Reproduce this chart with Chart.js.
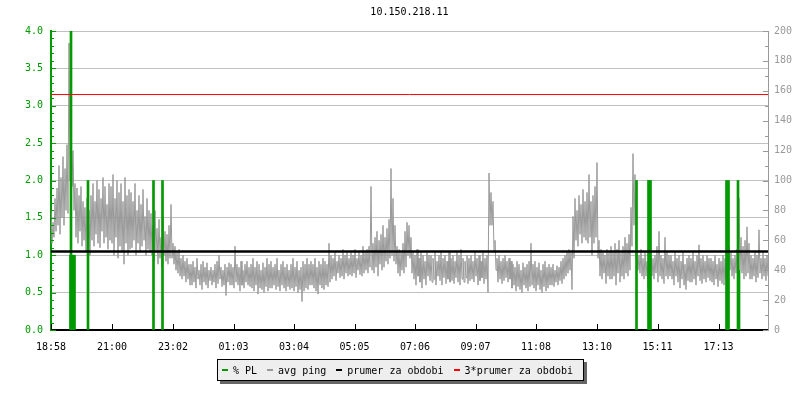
<!DOCTYPE html>
<html>
<head>
<meta charset="utf-8">
<script src="https://cdn.jsdelivr.net/npm/chart.js@4.4.3/dist/chart.umd.min.js"></script>
<style>
  body { margin: 0; background: #fff; }
  #wrap { position: relative; width: 800px; height: 400px; font-family: 'DejaVu Sans Mono', monospace; font-size: 10px; }
  #title { position: absolute; left: 51px; width: 717px; top: 6px; text-align: center; color: #000; }
  #legend { position: absolute; left: 217px; top: 359px; width: 361px; height: 20px; border: 1px solid #000;
            background: #eeeeee; box-shadow: 3px 3px 0 #666; display: flex; align-items: center; padding-left: 4px; box-sizing: content-box; }
  #legend .sw { display: inline-block; width: 9px; height: 2px; margin-right: 5px; }
  #legend .it { margin-right: 10px; white-space: pre; }
</style>
</head>
<body>
<div id="wrap">
  <canvas id="c" width="800" height="400"></canvas>
  <div id="title">10.150.218.11</div>
  <div id="legend"></div>
</div>
<script>
// avg ping [ms]: highest and lowest sample in each 4 minute slot, from 18:58
const slotMinutes = 4;
const pingHigh = [
  80, 72, 88, 95, 110, 102, 116, 108, 124, 192,
  130, 120, 98, 95, 90, 96, 86, 82, 88, 80,
  90, 98, 86, 100, 94, 88, 102, 96, 84, 98,
  96, 104, 88, 100, 92, 98, 86, 102, 90, 94,
  92, 86, 98, 80, 90, 84, 94, 76, 88, 80,
  78, 70, 80, 68, 74, 62, 76, 66, 64, 70,
  84, 58, 56, 52, 54, 48, 50, 46, 48, 44,
  44, 46, 42, 48, 40, 44, 46, 42, 45, 40,
  42, 40, 44, 46, 50, 42, 40, 44, 42, 45,
  44, 42, 56, 44, 42, 46, 40, 44, 46, 42,
  44, 48, 42, 46, 44, 40, 45, 42, 48, 44,
  46, 42, 44, 48, 40, 44, 46, 42, 44, 40,
  44, 48, 42, 46, 40, 42, 46, 44, 48, 44,
  46, 44, 48, 42, 46, 44, 48, 46, 44, 58,
  50, 48, 52, 46, 50, 48, 54, 50, 52, 48,
  52, 50, 54, 48, 52, 50, 56, 52, 54, 56,
  96, 58, 62, 66, 60, 64, 70, 62, 68, 74,
  108, 88, 70, 56, 54, 52, 58, 66, 72, 70,
  62, 52, 50, 54, 48, 52, 50, 46, 52, 50,
  50, 48, 52, 46, 50, 53, 48, 50, 46, 52,
  48, 50, 46, 52, 50, 54, 48, 46, 50, 48,
  50, 46, 52, 48, 50, 46, 52, 48, 50, 105,
  92, 86, 60, 48, 50, 46, 48, 50, 46, 48,
  46, 44, 42, 46, 44, 40, 45, 42, 44, 46,
  58, 44, 46, 42, 45, 40, 44, 46, 42, 44,
  42, 44, 40, 43, 42, 46, 48, 50, 52, 54,
  52, 76, 88, 80, 90, 84, 94, 86, 92, 104,
  86, 90, 96, 112, 60, 54, 52, 50, 54, 52,
  56, 52, 58, 54, 60, 52, 56, 62, 58, 64,
  82, 118, 104, 52, 50, 54, 48, 52, 46, 50,
  52, 48, 50, 56, 66, 50, 48, 62, 52, 50,
  50, 46, 52, 48, 50, 46, 52, 44, 48, 50,
  48, 52, 46, 50, 57, 48, 50, 46, 50, 48,
  48, 46, 50, 44, 48, 46, 50, 48, 54, 56,
  52, 48, 50, 54, 88, 62, 56, 60, 69, 58,
  50, 48, 52, 50, 67, 48, 52, 48, 50
];
const pingLow = [
  58, 62, 66, 70, 64, 75, 70, 80, 78, 100,
  96, 80, 62, 58, 66, 56, 60, 52, 55, 50,
  60, 56, 64, 58, 55, 66, 58, 62, 54, 60,
  58, 50, 62, 48, 56, 52, 44, 58, 50, 54,
  55, 60, 50, 58, 52, 56, 60, 50, 54, 52,
  50, 46, 52, 44, 48, 42, 50, 46, 44, 48,
  48, 44, 40, 38, 36, 34, 36, 32, 34, 30,
  30, 32, 28, 34, 30, 27, 32, 30, 28, 33,
  30, 32, 28, 31, 34, 29, 30, 23, 32, 30,
  30, 28, 32, 30, 26, 30, 28, 32, 30, 29,
  28, 26, 30, 24, 28, 27, 25, 29, 26, 28,
  28, 30, 27, 29, 26, 30, 28, 26, 29, 27,
  28, 26, 29, 25, 27, 19, 26, 28, 27, 30,
  30, 28, 26, 24, 30, 28, 27, 30, 29, 32,
  34, 36, 33, 38, 35, 36, 34, 38, 36, 37,
  36, 38, 35, 40, 37, 36, 38, 40, 38, 42,
  40, 38, 42, 36, 44, 40, 42, 46, 44, 48,
  50, 46, 44, 38, 36, 40, 38, 42, 50, 48,
  38, 34, 30, 36, 32, 28, 34, 30, 36, 33,
  32, 34, 30, 36, 33, 30, 35, 31, 34, 32,
  33, 31, 35, 32, 30, 34, 32, 35, 31, 33,
  34, 32, 36, 30, 33, 35, 31, 34, 25, 70,
  70, 52, 40, 32, 34, 31, 33, 35, 32, 34,
  28, 30, 26, 29, 27, 25, 30, 28, 26, 29,
  30, 28, 26, 30, 27, 25, 29, 26, 28, 30,
  30, 29, 32, 30, 33, 31, 34, 36, 38, 40,
  27, 48, 60, 56, 64, 58, 62, 60, 58, 62,
  50, 58, 62, 48, 36, 34, 38, 31, 36, 34,
  34, 36, 30, 38, 32, 36, 34, 38, 36, 40,
  56, 70, 48, 40, 38, 36, 34, 36, 28, 34,
  36, 34, 38, 32, 36, 34, 31, 36, 34, 36,
  34, 30, 36, 32, 28, 34, 30, 27, 33, 32,
  32, 34, 30, 36, 33, 31, 34, 32, 35, 33,
  32, 30, 34, 29, 33, 31, 30, 34, 38, 40,
  36, 34, 38, 36, 40, 38, 34, 36, 38, 34,
  34, 36, 32, 35, 38, 34, 36, 33, 36
];

// packet loss [%] spikes, minutes from 18:58
const plMinutes = [39, 40, 41, 43, 45, 47, 74, 205, 223, 1171, 1195, 1197, 1199, 1351, 1353, 1355, 1374, 1376];
const plValues  = [1.0, 4.0, 1.0, 1.0, 1.0, 1.0, 2.0, 2.0, 2.0, 2.0, 2.0, 2.0, 2.0, 2.0, 0.8, 2.0, 2.0, 0.8];

const avgPing = 52.5;          // prumer za obdobi
const avgPing3 = 3 * avgPing;  // 3*prumer za obdobi

const spanMinutes = 1434;
const tickMinutes = [0, 122, 244, 365, 486, 607, 728, 849, 970, 1092, 1213, 1335];
const tickLabels = ['18:58', '21:00', '23:02', '01:03', '03:04', '05:05', '07:06', '09:07', '11:08', '13:10', '15:11', '17:13'];
const leftTicks = [0, 0.5, 1, 1.5, 2, 2.5, 3, 3.5, 4];
const rightTicks = [0, 20, 40, 60, 80, 100, 120, 140, 160, 180, 200];

const legendItems = [
  { label: '% PL', color: '#009900' },
  { label: 'avg ping', color: '#999999' },
  { label: 'prumer za obdobi', color: '#000000' },
  { label: '3*prumer za obdobi', color: '#ff0000' }
];

const GREEN = '#009900', GREY = '#999999';
const FONT = { family: "'DejaVu Sans Mono', monospace", size: 10 };

// high and low of each slot, one after the other
const pingPoints = [];
pingHigh.forEach((h, i) => {
  pingPoints.push({ x: i * slotMinutes, y: h });
  pingPoints.push({ x: i * slotMinutes + slotMinutes / 2, y: pingLow[i] });
});

// inward tick marks like the original graph
const tickMarks = {
  id: 'tickMarks',
  afterDraw(chart) {
    const { ctx, chartArea: a, scales } = chart;
    ctx.save();
    ctx.lineWidth = 1;
    ctx.strokeStyle = GREEN;
    for (let i = 0; i <= 40; i++) {
      const y = Math.round(scales.yL.getPixelForValue(i / 10)) + 0.5;
      const len = i % 5 === 0 ? 5 : 3;
      ctx.beginPath(); ctx.moveTo(a.left, y); ctx.lineTo(a.left + len, y); ctx.stroke();
    }
    ctx.strokeStyle = GREY;
    for (let i = 0; i <= 20; i++) {
      const y = Math.round(scales.yR.getPixelForValue(i * 10)) + 0.5;
      const len = i % 2 === 0 ? 5 : 3;
      ctx.beginPath(); ctx.moveTo(a.right, y); ctx.lineTo(a.right - len, y); ctx.stroke();
    }
    ctx.strokeStyle = '#000';
    tickMinutes.forEach(m => {
      const x = Math.round(scales.x.getPixelForValue(m)) + 0.5;
      ctx.beginPath(); ctx.moveTo(x, a.bottom); ctx.lineTo(x, a.bottom - 6); ctx.stroke();
    });
    ctx.restore();
  }
};

new Chart(document.getElementById('c'), {
  type: 'line',
  data: {
    datasets: [
      {
        label: '3*prumer za obdobi', yAxisID: 'yR', order: 0,
        data: [{ x: 0, y: avgPing3 }, { x: spanMinutes, y: avgPing3 }],
        borderColor: '#ff0000', borderWidth: 1, pointRadius: 0
      },
      {
        label: 'prumer za obdobi', yAxisID: 'yR', order: 1,
        data: [{ x: 0, y: avgPing }, { x: spanMinutes, y: avgPing }],
        borderColor: '#000000', borderWidth: 2.5, pointRadius: 0
      },
      {
        type: 'bar', label: '% PL', yAxisID: 'yL', order: 2,
        data: plMinutes.map((m, i) => ({ x: m, y: plValues[i] })),
        backgroundColor: GREEN, barThickness: 2, grouped: false
      },
      {
        label: 'avg ping', yAxisID: 'yR', order: 3,
        data: pingPoints,
        borderColor: GREY, borderWidth: 1, pointRadius: 0, tension: 0
      }
    ]
  },
  options: {
    responsive: false,
    animation: false,
    devicePixelRatio: 1,
    layout: { padding: { top: 31, bottom: 50, left: 0, right: 0 } },
    plugins: { legend: { display: false }, tooltip: { enabled: false } },
    scales: {
      x: {
        type: 'linear', min: 0, max: spanMinutes, offset: false,
        afterBuildTicks: s => { s.ticks = tickMinutes.map(v => ({ value: v })); },
        afterFit: s => { s.height = 20; },
        ticks: { font: FONT, color: '#000', padding: 3, maxRotation: 0, autoSkip: false,
                 callback: (v, i) => tickLabels[i] },
        grid: { display: false },
        border: { color: '#000', width: 2 }
      },
      yL: {
        position: 'left', min: 0, max: 4,
        afterBuildTicks: s => { s.ticks = leftTicks.map(v => ({ value: v })); },
        afterFit: s => { s.width = 51; },
        ticks: { font: FONT, color: GREEN, padding: 8, callback: v => v.toFixed(1) },
        grid: { color: '#c0c0c0', drawTicks: false },
        border: { color: GREEN, width: 2 }
      },
      yR: {
        position: 'right', min: 0, max: 200,
        afterBuildTicks: s => { s.ticks = rightTicks.map(v => ({ value: v })); },
        afterFit: s => { s.width = 32; },
        ticks: { font: FONT, color: GREY, padding: 6 },
        grid: { drawOnChartArea: false, drawTicks: false },
        border: { color: GREY, width: 1 }
      }
    }
  },
  plugins: [tickMarks]
});

// legend box under the chart
const lg = document.getElementById('legend');
legendItems.forEach(it => {
  const sw = document.createElement('span');
  sw.className = 'sw';
  sw.style.background = it.color;
  const tx = document.createElement('span');
  tx.className = 'it';
  tx.textContent = it.label;
  lg.appendChild(sw);
  lg.appendChild(tx);
});
</script>
</body>
</html>
